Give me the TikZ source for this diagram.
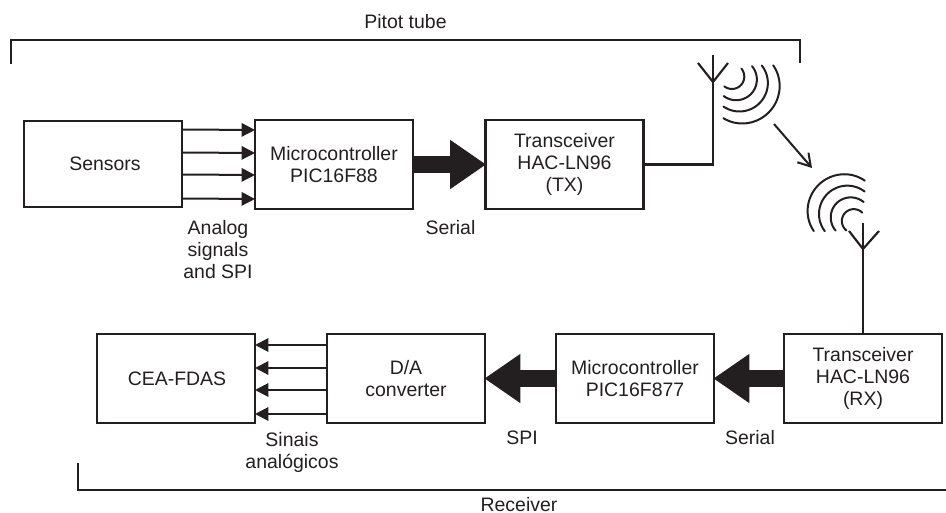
\documentclass[tikz,border=0pt]{standalone}
\usepackage{fontspec}
\setmainfont{Liberation Sans}
\usetikzlibrary{arrows.meta,calc}
\definecolor{ink}{HTML}{231F20}
\tikzset{
  x=0.75pt,y=-0.75pt,
  every node/.style={text=ink,font=\fontsize{14.6}{16.5}\selectfont,align=center,inner sep=0pt,outer sep=0pt},
  blockbox/.style={draw=ink,line width=1.7pt,minimum width=118.5pt,minimum height=66.75pt},
  thick arrow/.style={draw=ink,line width=12.75pt,-{Triangle[length=27pt,width=35pt,fill=ink]},shorten >=-0.5pt},
  thin arrow/.style={draw=ink,line width=1.5pt,-{Triangle[length=10pt,width=10pt,fill=ink]}},
  wire/.style={draw=ink,line width=1.6pt,line join=miter},
  wave/.style={draw=ink,line width=1.5pt,line cap=round},
}
% centre x, centre y, start angle, end angle, mid radius, end radius (3x zoom units, y down)
\newcommand{\wavearc}[6]{%
  \draw[wave] plot[domain=#3:#4,samples=41,smooth]
    ({#1+(#5-(#5-#6)*pow((\x-(#3+#4)/2)/((#4-#3)/2),2))*cos(\x)},
     {#2+(#5-(#5-#6)*pow((\x-(#3+#4)/2)/((#4-#3)/2),2))*sin(\x)});}
\begin{document}
\begin{tikzpicture}
\useasboundingbox (0,0) rectangle (946,513);
% blocks
\node[blockbox,minimum height=64.5pt] (sensors) at (103,164) {\hspace*{3pt}Sensors};
\node[blockbox] (micro) at (334,164.5) {Microcontroller\\PIC16F88};
\node[blockbox] (tx) at (564.5,164.5) {Transceiver\\HAC-LN96\\(TX)};
\node[blockbox] (cea) at (176,378.5) {\hspace*{1.5pt}CEA-FDAS};
\node[blockbox] (da) at (406,378.5) {D/A\\converter};
\node[blockbox] (micror) at (635,378.5) {Microcontroller\\PIC16F877};
\node[blockbox] (rx) at (863,378.5) {Transceiver\\HAC-LN96\\(RX)};
% thick arrows
\draw[thick arrow] (micro.east) -- (tx.west);
\draw[thick arrow] (micror.west) -- (da.east);
\draw[thick arrow] (rx.west) -- (micror.east);
% thin arrows
\foreach \dy in {-34.5,-11.5,10.5,34.5}{
  \draw[thin arrow] ($(sensors.east)+(0,\dy)$) -- ($(micro.west)+(0,\dy)$);
}
\foreach \dy in {-33.5,-10.5,11.5,35.5}{
  \draw[thin arrow] ($(da.west)+(0,\dy)$) -- ($(cea.east)+(0,\dy)$);
}
% TX antenna
\coordinate (txfoot) at (713,82);
\coordinate (txtop) at (713,55);
\coordinate (txl) at (698,63);
\coordinate (txr) at (728,63);
\draw[wire] (tx.east) -| (txfoot) -- (txtop);
\draw[wire] (txl) -- (txfoot) -- (txr);
% RX antenna
\coordinate (rxfoot) at (863,249);
\coordinate (rxtop) at (863,223);
\coordinate (rxl) at (849,231);
\coordinate (rxr) at (879,231);
\draw[wire] (rx.north -| rxfoot) -- (rxtop);
\draw[wire] (rxl) -- (rxfoot) -- (rxr);
% waves (coordinates in 3x zoom units)
\begin{scope}[shift={(640,40)},x=0.25pt,y=-0.25pt]
\wavearc{298}{130}{-28}{114.6}{124}{115}
\wavearc{297}{128}{-37}{123}{87}{85.5}
\wavearc{290}{120}{-42}{129}{60}{62}
\wavearc{278}{112}{-45}{133}{34}{37}
\wavearc{620}{520}{-208.4}{-61}{120}{112}
\wavearc{622}{522}{-217.3}{-52.5}{85}{85}
\wavearc{630}{530}{-224}{-47}{57}{60}
\wavearc{640}{542}{-235}{-42}{34}{36}
\end{scope}
% radio link arrow
\coordinate (linkfrom) at (774,124);
\coordinate (linkto) at (812,168);
\draw[draw=ink,line width=1.5pt,-{Straight Barb[length=9pt,width=11pt]}] (linkfrom) -- (linkto);
% brackets
\coordinate (ptl) at (11,64);
\coordinate (ptr) at (800,63);
\coordinate (ptt) at (0,40);
\draw[wire] (ptl) |- (ptt -| ptr) -- (ptr);
\coordinate (rcl) at (78,463);
\coordinate (rcr) at (946,490);
\draw[wire] (rcl) |- (rcr);
% labels
\node (lpitot) at (405.5,22) {Pitot tube};
\node (lrecv) at (519,504.5) {Receiver};
\node (lanalog) at (218,250) {Analog\\signals\\and SPI};
\node (lserial) at (450.5,228) {Serial};
\node (lsinais) at (292,452) {Sinais\\analógicos};
\node (lspi) at (522,438) {SPI};
\node (lserial2) at (750,438) {Serial};
\end{tikzpicture}
\end{document}
